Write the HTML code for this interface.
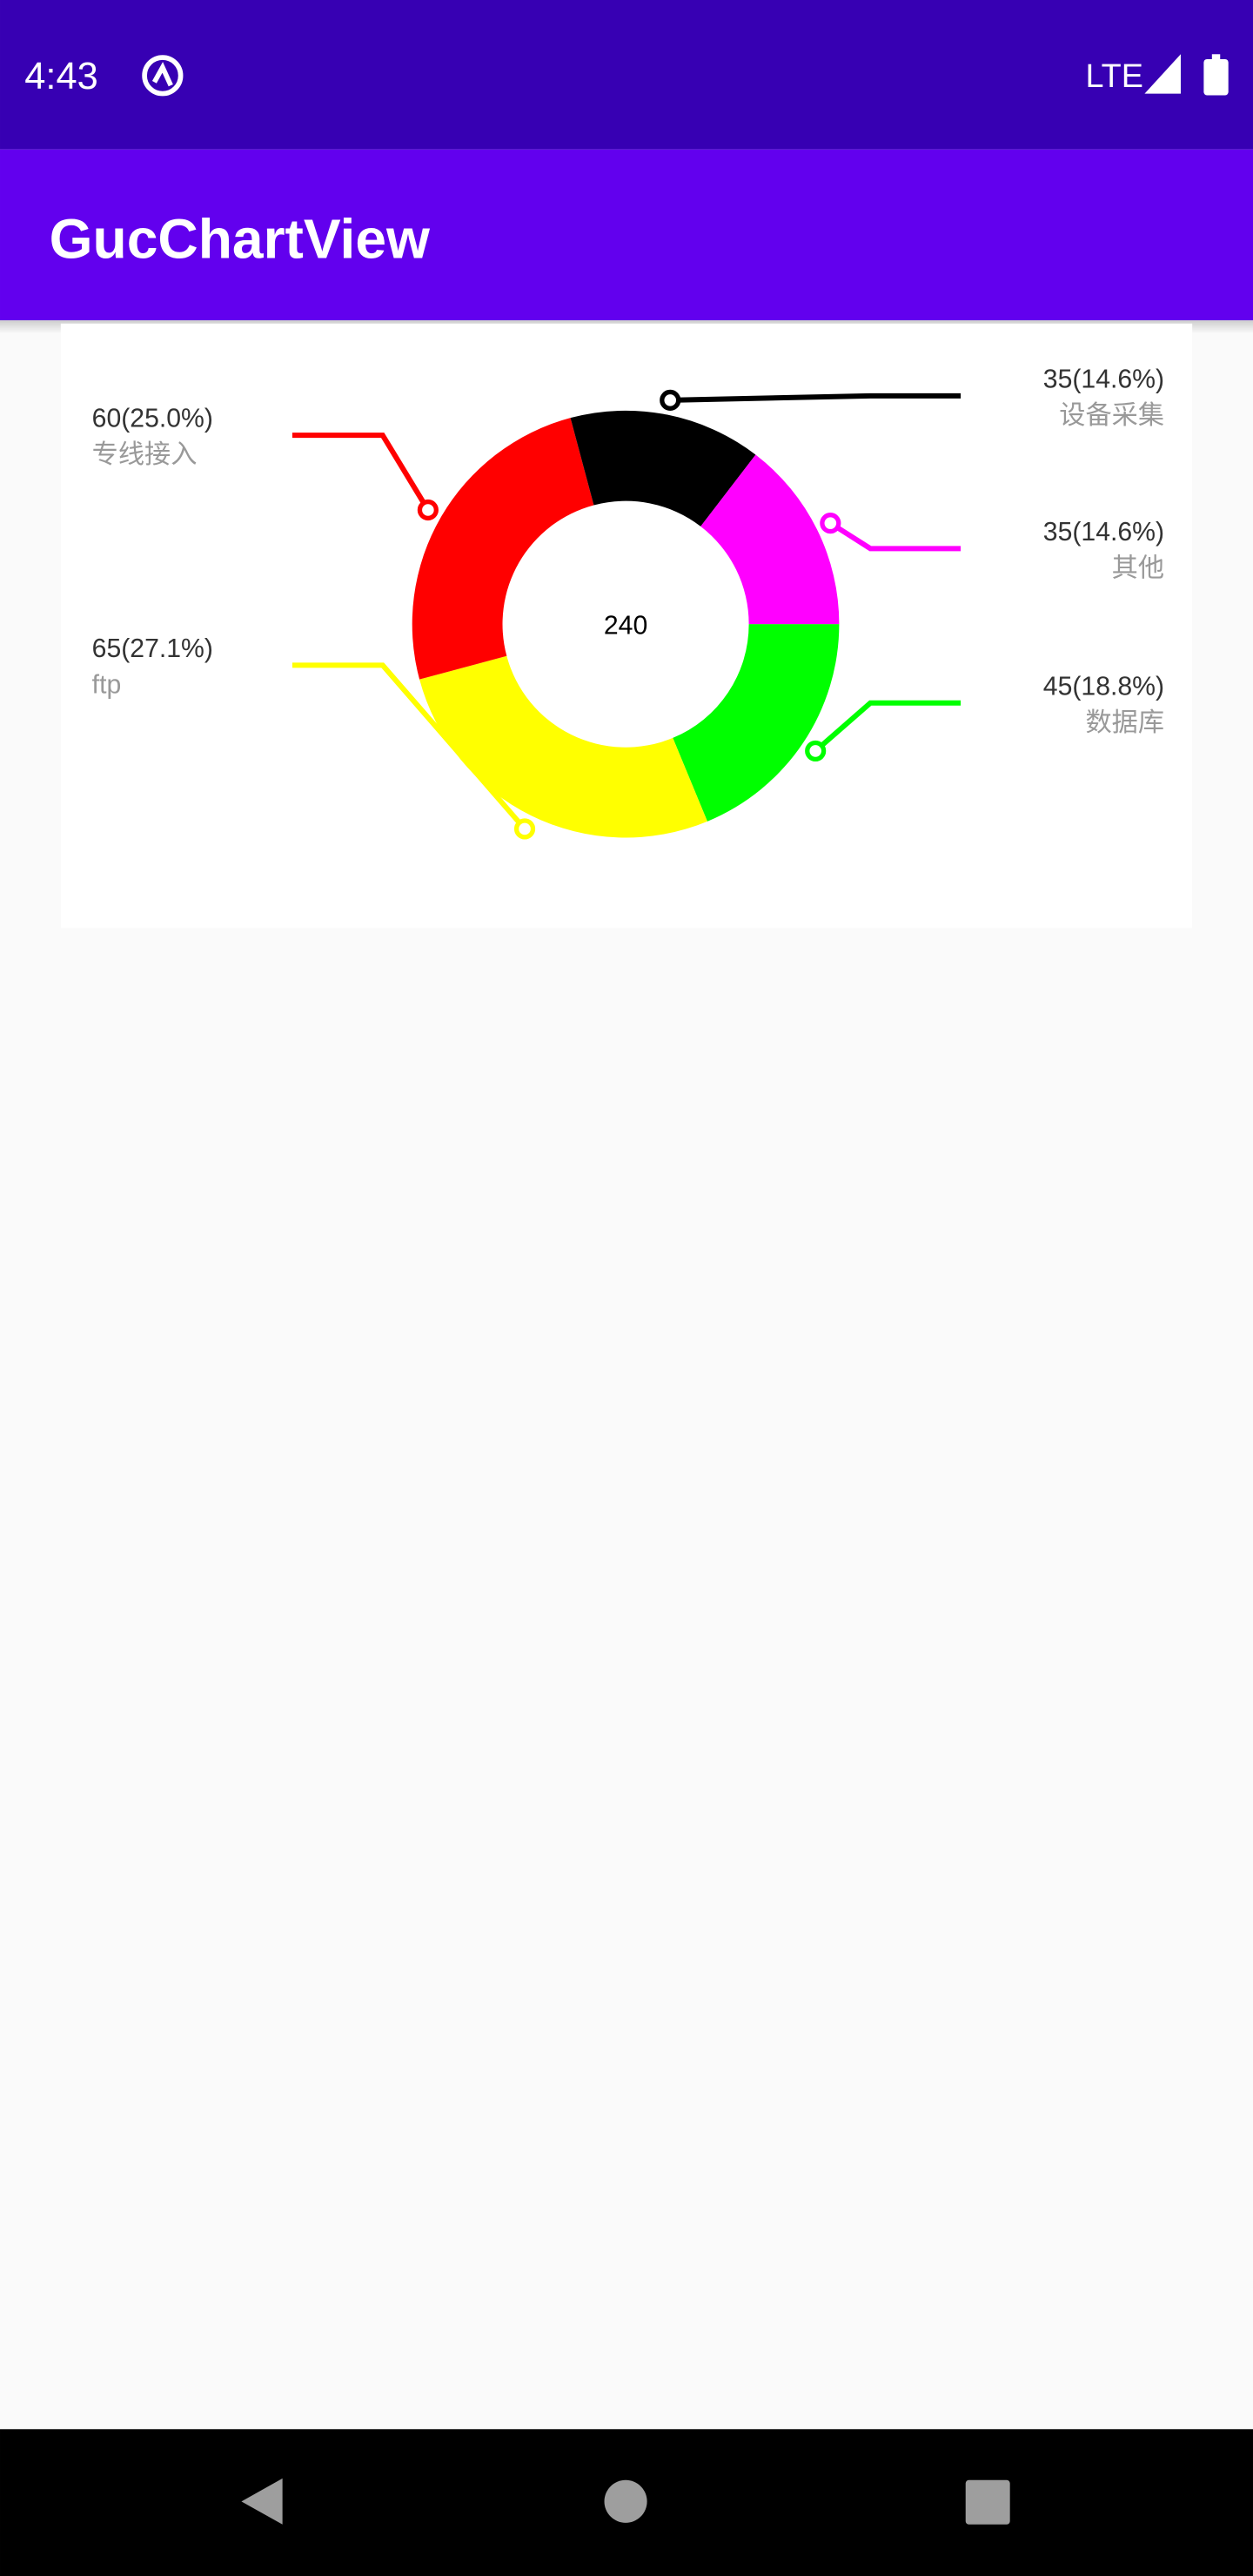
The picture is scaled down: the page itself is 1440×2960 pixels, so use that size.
<!DOCTYPE html>
<html><head><meta charset="utf-8">
<style>
html,body{margin:0;padding:0;width:1440px;height:2960px;overflow:hidden;background:#fafafa;}
svg{display:block;}
text{font-family:"Liberation Sans","Noto Sans CJK SC",sans-serif;}
</style></head>
<body>
<svg id="root" width="1440" height="2960" viewBox="0 0 763 1568.4" xmlns="http://www.w3.org/2000/svg">
  <defs>
    <linearGradient id="sh" x1="0" y1="0" x2="0" y2="1"><stop offset="0" stop-color="#000" stop-opacity="0.18"/><stop offset="1" stop-color="#000" stop-opacity="0"/></linearGradient>
  </defs>
  <rect x="0" y="0" width="763" height="91" fill="#3700b3"/>
  <text x="15" y="54" font-size="23" fill="#fff">4:43</text>
  <g fill="none" stroke="#fff" stroke-width="3">
    <circle cx="99" cy="46" r="11"/><path d="M94 50 L99 41 L104 52"/>
  </g>
  <text x="661" y="53" font-size="20" fill="#fff">LTE</text>
  <path d="M697 57 L719 33 L719 57 Z" fill="#fff"/>
  <rect x="733" y="36" width="15" height="22" rx="2" fill="#fff"/>
  <rect x="738" y="33" width="5" height="4" fill="#fff"/>
  <rect x="0" y="91" width="763" height="104" fill="#6200ee"/>
  <text x="30" y="157" font-size="34" font-weight="bold" fill="#fff">GucChartView</text>
  <rect x="0" y="195" width="763" height="8" fill="url(#sh)"/>
  <rect x="37" y="197" width="689" height="368" fill="#fff"/>
  <g id="chart"></g>
  <rect x="0" y="1479" width="763" height="90" fill="#000"/>
  <path d="M172 1509 L172 1537 L147 1523 Z" fill="#9e9e9e"/>
  <circle cx="381" cy="1523" r="13" fill="#9e9e9e"/>
  <rect x="588" y="1510" width="27" height="27" rx="2" fill="#9e9e9e"/>
</svg>
<script>
const categories = ["数据库", "ftp", "专线接入", "设备采集", "其他"];
const values = [45, 65, 60, 35, 35];
const colors = ["#00ff00", "#ffff00", "#ff0000", "#000000", "#ff00ff"];
const labelRows = [428, 405, 265, 241, 334];
const labelSides = ["right", "left", "left", "right", "right"];

const NS = "http://www.w3.org/2000/svg";
const g = document.getElementById("chart");
const cx = 381, cy = 380, R = 130, r = 75, dotR = 139;
const total = values.reduce((a, b) => a + b, 0);
function mk(tag, attrs) { const e = document.createElementNS(NS, tag); for (const k in attrs) e.setAttribute(k, attrs[k]); g.appendChild(e); return e; }
function pt(rad, a) { return [cx + rad * Math.cos(a), cy + rad * Math.sin(a)]; }
function angle(v) { return v / total * Math.PI * 2; }

let start = 0;
values.forEach((v, i) => {
  const end = start + angle(v);
  const large = end - start > Math.PI ? 1 : 0;
  const [x1, y1] = pt(R, start), [x2, y2] = pt(R, end), [x3, y3] = pt(r, end), [x4, y4] = pt(r, start);
  const p = mk("path", { d: `M${x1} ${y1} A${R} ${R} 0 ${large} 1 ${x2} ${y2} L${x3} ${y3} A${r} ${r} 0 ${large} 0 ${x4} ${y4} Z`, fill: colors[i] });
  
  
  const mid = (start + end) / 2;
  const [dx, dy] = pt(dotR, mid);
  const left = labelSides[i] === "left";
  const ly = labelRows[i];
  const ex = left ? 233 : 530, tx = left ? 178 : 585;
  const line = mk("polyline", { points: `${dx} ${dy} ${ex} ${ly} ${tx} ${ly}`, fill: "none", stroke: colors[i], "stroke-width": 3.2 });
  
  
  const dot = mk("circle", { cx: dx, cy: dy, r: 5, fill: "#fff", stroke: colors[i], "stroke-width": 2.8 });
  
  
  const anchor = left ? "start" : "end", lx = left ? 56 : 709;
  const t1 = mk("text", { x: lx, y: ly - 5, "font-size": 16, fill: "#333", "text-anchor": anchor });
  t1.textContent = v + "(" + (v / total * 100).toFixed(1) + "%)";
  
  
  const t2 = mk("text", { x: lx, y: ly + 17, "font-size": 16, fill: "#999", "text-anchor": anchor });
  t2.textContent = categories[i];
  
  
  start = end;
});
const ct = mk("text", { x: cx, y: cy + 6, "font-size": 16, fill: "#000", "text-anchor": "middle" });
ct.textContent = total;


</script>
</body></html>
